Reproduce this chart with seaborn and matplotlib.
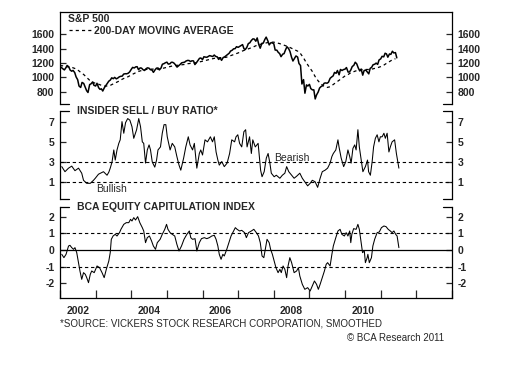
import numpy as np
import pandas as pd
import matplotlib
matplotlib.use("Agg")
import matplotlib.pyplot as plt
import seaborn as sns

sns.set_style("white")
plt.rcParams['font.family'] = ['Liberation Sans', 'DejaVu Sans']

# ---------------------------------------------------------------
# data
# ---------------------------------------------------------------

# S&P 500, semi-monthly (1st and 15th), Jan 2002 - Jun 2011
sp500_close = [
    1148, 1138, 1118, 1104, 1131, 1166, 1147, 1102, 1086, 1097, 1067, 1007,
    968, 880, 860, 930, 916, 870, 815, 790, 900, 910, 936, 890,
    880, 918, 856, 834, 841, 810, 858, 885, 917, 946, 964, 994,
    982, 1000, 980, 990, 1008, 1015, 1018, 1046, 1051, 1050, 1058, 1075,
    1112, 1139, 1131, 1146, 1149, 1108, 1132, 1129, 1107, 1096, 1121, 1133,
    1128, 1107, 1102, 1070, 1105, 1128, 1131, 1104, 1130, 1183, 1191, 1203,
    1212, 1185, 1189, 1210, 1210, 1198, 1172, 1143, 1162, 1178, 1202, 1207,
    1211, 1227, 1236, 1235, 1221, 1231, 1229, 1178, 1207, 1234, 1265, 1270,
    1248, 1287, 1282, 1280, 1292, 1303, 1295, 1290, 1311, 1292, 1285, 1250,
    1270, 1237, 1277, 1285, 1304, 1321, 1336, 1366, 1378, 1397, 1400, 1427,
    1418, 1430, 1445, 1456, 1400, 1387, 1421, 1470, 1482, 1512, 1536, 1533,
    1503, 1549, 1455, 1406, 1474, 1476, 1527, 1560, 1509, 1452, 1481, 1481,
    1468, 1380, 1379, 1349, 1331, 1288, 1323, 1330, 1386, 1426, 1400, 1360,
    1280, 1228, 1267, 1298, 1283, 1193, 1165, 908, 969, 780, 896, 880,
    903, 844, 826, 827, 700, 756, 798, 852, 873, 883, 919, 923,
    919, 932, 987, 1004, 1021, 1069, 1057, 1096, 1036, 1110, 1096, 1108,
    1115, 1137, 1074, 1075, 1104, 1150, 1169, 1211, 1187, 1135, 1089, 1116,
    1031, 1095, 1102, 1079, 1049, 1125, 1141, 1176, 1183, 1199, 1181, 1242,
    1258, 1293, 1286, 1336, 1327, 1281, 1326, 1320, 1364, 1340, 1345, 1272,
]

# 200-day moving average, monthly, Jan 2002 - Jun 2011
sma200 = [
    1165, 1160, 1150, 1145, 1140, 1125, 1105, 1070, 1040, 1000, 960, 935,
    915, 905, 890, 880, 880, 890, 910, 930, 950, 975, 995, 1010,
    1035, 1055, 1075, 1090, 1100, 1110, 1115, 1115, 1115, 1115, 1120, 1130,
    1140, 1150, 1160, 1165, 1170, 1175, 1180, 1190, 1195, 1200, 1205, 1215,
    1225, 1235, 1245, 1255, 1265, 1270, 1275, 1275, 1280, 1295, 1310, 1325,
    1340, 1360, 1375, 1390, 1405, 1420, 1440, 1455, 1465, 1475, 1485, 1490,
    1490, 1480, 1470, 1455, 1440, 1425, 1405, 1385, 1365, 1330, 1270, 1200,
    1140, 1080, 1010, 950, 905, 875, 860, 870, 900, 930, 960, 990,
    1020, 1040, 1065, 1080, 1095, 1105, 1110, 1110, 1110, 1115, 1125, 1135,
    1150, 1170, 1195, 1220, 1245, 1260,
]

insider_year = [
    2002.05, 2002.14, 2002.24, 2002.33, 2002.42, 2002.52, 2002.61, 2002.66, 2002.75, 2002.85,
    2002.94, 2002.99, 2003.08, 2003.22, 2003.32, 2003.37, 2003.41, 2003.46, 2003.51, 2003.55,
    2003.60, 2003.65, 2003.69, 2003.74, 2003.79, 2003.84, 2003.90, 2003.96, 2004.02, 2004.07,
    2004.15, 2004.21, 2004.26, 2004.31, 2004.35, 2004.40, 2004.45, 2004.50, 2004.54, 2004.59,
    2004.66, 2004.71, 2004.75, 2004.82, 2004.87, 2004.92, 2004.97, 2005.01, 2005.09, 2005.15,
    2005.22, 2005.28, 2005.34, 2005.39, 2005.47, 2005.53, 2005.60, 2005.65, 2005.72, 2005.77,
    2005.81, 2005.84, 2005.91, 2005.95, 2006.00, 2006.07, 2006.14, 2006.22, 2006.28, 2006.33,
    2006.38, 2006.43, 2006.47, 2006.54, 2006.61, 2006.69, 2006.76, 2006.82, 2006.90, 2006.94,
    2006.99, 2007.04, 2007.10, 2007.16, 2007.21, 2007.25, 2007.32, 2007.37, 2007.41, 2007.48,
    2007.56, 2007.60, 2007.63, 2007.67, 2007.73, 2007.79, 2007.84, 2007.89, 2007.93, 2008.01,
    2008.07, 2008.17, 2008.24, 2008.31, 2008.36, 2008.42, 2008.50, 2008.57, 2008.64, 2008.73,
    2008.80, 2008.87, 2008.95, 2009.02, 2009.08, 2009.16, 2009.23, 2009.30, 2009.36, 2009.44,
    2009.51, 2009.58, 2009.63, 2009.67, 2009.74, 2009.80, 2009.83, 2009.89, 2009.96, 2010.02,
    2010.08, 2010.13, 2010.17, 2010.22, 2010.27, 2010.31, 2010.36, 2010.40, 2010.46, 2010.50,
    2010.57, 2010.63, 2010.66, 2010.71, 2010.76, 2010.80, 2010.85, 2010.90, 2010.95, 2010.99,
    2011.04, 2011.09, 2011.13, 2011.18, 2011.23, 2011.27, 2011.32, 2011.39, 2011.44, 2011.51,
]
insider_ratio = [
    2.55, 2.05, 2.4, 2.6, 2.15, 2.4, 1.9, 1.2, 0.9, 0.9,
    1.2, 1.4, 1.8, 2.05, 1.7, 2.0, 2.4, 3.0, 4.2, 3.2,
    4.2, 4.85, 5.2, 7.0, 5.85, 6.9, 7.3, 7.15, 6.5, 5.35,
    6.2, 7.3, 6.5, 5.0, 4.85, 2.9, 4.2, 4.7, 4.2, 3.0,
    2.5, 3.2, 4.2, 4.5, 5.85, 6.7, 6.7, 5.5, 4.2, 4.85,
    4.5, 3.55, 2.7, 2.2, 3.4, 4.5, 5.5, 4.7, 4.2, 4.85,
    3.4, 2.4, 3.85, 4.2, 3.7, 5.2, 5.0, 5.5, 5.0, 5.5,
    4.0, 3.2, 2.7, 3.05, 2.55, 2.9, 3.85, 5.2, 5.0, 5.5,
    5.7, 4.85, 4.5, 6.0, 6.2, 4.5, 5.5, 3.85, 5.2, 4.5,
    4.85, 3.4, 2.2, 1.55, 2.05, 3.4, 3.85, 2.9, 1.9, 1.55,
    1.7, 1.4, 1.7, 1.9, 2.55, 2.05, 1.7, 1.4, 1.6, 1.9,
    1.4, 1.05, 0.65, 0.9, 1.2, 1.05, 0.5, 1.4, 2.05, 2.2,
    2.4, 2.9, 3.55, 3.85, 4.2, 5.2, 4.5, 3.4, 2.55, 3.05,
    4.2, 3.55, 2.9, 4.35, 4.7, 4.2, 6.2, 4.5, 3.05, 2.05,
    2.55, 3.2, 2.05, 1.7, 3.05, 4.5, 5.35, 5.7, 5.0, 5.5,
    5.5, 5.85, 5.35, 5.85, 4.0, 4.5, 5.0, 5.2, 3.85, 2.4,
]

capit_year = [
    2002.05, 2002.11, 2002.17, 2002.24, 2002.28, 2002.33, 2002.38, 2002.42, 2002.47, 2002.52,
    2002.56, 2002.61, 2002.66, 2002.71, 2002.75, 2002.80, 2002.85, 2002.89, 2002.96, 2003.04,
    2003.11, 2003.18, 2003.24, 2003.30, 2003.37, 2003.41, 2003.44, 2003.49, 2003.55, 2003.60,
    2003.67, 2003.71, 2003.79, 2003.86, 2003.93, 2003.98, 2004.02, 2004.07, 2004.12, 2004.18,
    2004.24, 2004.31, 2004.35, 2004.40, 2004.45, 2004.51, 2004.57, 2004.62, 2004.68, 2004.73,
    2004.81, 2004.87, 2004.94, 2004.99, 2005.03, 2005.09, 2005.15, 2005.22, 2005.28, 2005.34,
    2005.41, 2005.48, 2005.56, 2005.63, 2005.67, 2005.72, 2005.79, 2005.84, 2005.91, 2005.97,
    2006.05, 2006.12, 2006.19, 2006.26, 2006.33, 2006.38, 2006.43, 2006.47, 2006.52, 2006.57,
    2006.61, 2006.68, 2006.74, 2006.80, 2006.87, 2006.92, 2006.97, 2007.04, 2007.10, 2007.18,
    2007.23, 2007.29, 2007.37, 2007.44, 2007.51, 2007.57, 2007.62, 2007.67, 2007.72, 2007.76,
    2007.81, 2007.87, 2007.91, 2007.96, 2008.01, 2008.06, 2008.12, 2008.17, 2008.21, 2008.26,
    2008.31, 2008.36, 2008.40, 2008.45, 2008.50, 2008.57, 2008.64, 2008.69, 2008.73, 2008.80,
    2008.87, 2008.95, 2009.02, 2009.08, 2009.14, 2009.20, 2009.25, 2009.30, 2009.36, 2009.42,
    2009.47, 2009.51, 2009.58, 2009.63, 2009.67, 2009.74, 2009.80, 2009.86, 2009.91, 2009.98,
    2010.03, 2010.08, 2010.13, 2010.16, 2010.19, 2010.24, 2010.31, 2010.36, 2010.40, 2010.45,
    2010.49, 2010.54, 2010.57, 2010.62, 2010.64, 2010.68, 2010.74, 2010.78, 2010.83, 2010.90,
    2010.96, 2011.02, 2011.09, 2011.15, 2011.21, 2011.27, 2011.32, 2011.37, 2011.42, 2011.46,
    2011.51,
]
capit_index = [
    -0.26, -0.46, -0.26, 0.24, 0.28, 0.14, 0.04, 0.14, -0.16, -0.76,
    -1.26, -1.76, -1.36, -1.46, -1.66, -1.96, -1.46, -1.26, -1.36, -0.96,
    -1.06, -1.36, -1.66, -1.16, -0.66, -0.16, 0.64, 0.84, 0.94, 0.84,
    1.04, 1.24, 1.54, 1.64, 1.64, 1.84, 1.74, 1.94, 1.80, 2.00,
    1.64, 1.34, 1.14, 0.44, 0.74, 0.84, 0.54, 0.24, 0.04, 0.44,
    0.64, 0.94, 1.24, 1.54, 1.24, 1.04, 0.94, 0.84, 0.34, -0.06,
    0.24, 0.64, 0.94, 1.14, 0.74, 0.64, 0.68, -0.06, 0.44, 0.68,
    0.74, 0.68, 0.74, 0.84, 0.88, 0.64, 0.24, -0.26, -0.56, -0.26,
    -0.36, 0.04, 0.44, 0.84, 1.14, 1.34, 1.24, 1.14, 1.18, 1.04,
    0.74, 1.04, 1.14, 1.24, 1.04, 0.84, 0.44, -0.36, -0.46, 0.04,
    0.64, 0.44, 0.04, -0.26, -0.66, -1.06, -1.36, -1.16, -1.36, -0.96,
    -1.16, -1.66, -0.96, -0.46, -0.76, -1.36, -1.26, -1.06, -1.56, -2.06,
    -2.36, -2.26, -2.46, -2.16, -1.86, -2.06, -2.36, -2.06, -1.66, -1.26,
    -0.86, -0.76, -0.96, -0.26, 0.24, 0.74, 1.14, 1.24, 0.94, 0.84,
    1.04, 0.84, 1.14, 0.44, 0.94, 1.28, 1.24, 1.54, 1.24, 0.44,
    -0.16, -0.06, -0.76, -0.46, -0.26, -0.76, -0.46, 0.24, 0.64, 1.04,
    1.08, 1.34, 1.44, 1.40, 1.24, 1.14, 1.04, 1.14, 0.94, 0.84,
    0.14,
]

year_ticks = list(range(2002, 2014))
year_labels = ['2002', '2004', '2006', '2008', '2010']
sp_ticks = [800, 1000, 1200, 1400, 1600]
insider_ticks = [1, 3, 5, 7]
insider_levels = [3, 1]
capit_ticks = [-2, -1, 0, 1, 2]
capit_levels = [1, -1]


def to_decimal_year(dates):
    return dates.year + (dates.dayofyear - 1) / 365.25


sp_dates = pd.date_range('2002-01-01', periods=len(sp500_close), freq='SMS')
ma_dates = pd.date_range('2002-01-01', periods=len(sma200), freq='MS')
sp_df = pd.DataFrame({'year': to_decimal_year(sp_dates), 'close': sp500_close})
ma_df = pd.DataFrame({'year': to_decimal_year(ma_dates), 'ma': sma200})
ins_df = pd.DataFrame({'year': insider_year, 'ratio': insider_ratio})
cap_df = pd.DataFrame({'year': capit_year, 'index': capit_index})

# ---------------------------------------------------------------
# figure
# ---------------------------------------------------------------
fig = plt.figure(figsize=(5.11, 3.65), dpi=100)
ax1 = fig.add_axes([0.1174, 0.7151, 0.7671, 0.2521])
ax2 = fig.add_axes([0.1174, 0.4548, 0.7671, 0.2411])
ax3 = fig.add_axes([0.1174, 0.1836, 0.7671, 0.2493])

STUB = 0.024


def style_panel(ax, yticks, show_top, show_bottom):
    ax.set_xlim(2002, 2013)
    for side in ['left', 'right', 'top', 'bottom']:
        ax.spines[side].set_color('black')
        ax.spines[side].set_linewidth(0.9)
    ax.spines['top'].set_visible(show_top)
    ax.spines['bottom'].set_visible(show_bottom)
    # short corner stubs where the frame is open
    for yy, shown in [(1, show_top), (0, show_bottom)]:
        if not shown:
            for xs in ([0, STUB], [1 - STUB, 1]):
                ax.plot(xs, [yy, yy], color='black', lw=0.9,
                        transform=ax.transAxes, clip_on=False)
    ax.set_yticks(yticks)
    ax.set_yticklabels([str(t) for t in yticks])
    ax.tick_params(axis='y', which='major', direction='in', length=4, width=0.9,
                   left=True, right=True, labelleft=True, labelright=True,
                   pad=4, labelsize=7.5)
    for lbl in ax.get_yticklabels(which='both'):
        lbl.set_fontweight('bold')
    ax.set_xlabel('')
    ax.set_ylabel('')
    ax.grid(False)


# --- panel 1: S&P 500 ---
sns.lineplot(data=sp_df, x='year', y='close', ax=ax1, color='black', lw=1.1,
             estimator=None, sort=False)
sns.lineplot(data=ma_df, x='year', y='ma', ax=ax1, color='black', lw=0.9,
             linestyle=(0, (2.5, 2.5)), estimator=None, sort=False,
             label='200-DAY MOVING AVERAGE')
ax1.set_ylim(630, 1910)
ax1.set_xticks([])
style_panel(ax1, sp_ticks, True, False)
ax1.text(0.02, 0.925, 'S&P 500', transform=ax1.transAxes, ha='left', va='center',
         fontsize=7.5, fontweight='bold')
leg = ax1.legend(loc='upper left', bbox_to_anchor=(0.022, 0.85), frameon=False,
                 borderpad=0, borderaxespad=0, handlelength=2.2, handletextpad=0.2,
                 prop={'size': 7.5, 'weight': 'bold'})

# --- panel 2: insider sell / buy ratio ---
sns.lineplot(data=ins_df, x='year', y='ratio', ax=ax2, color='black', lw=0.75,
             estimator=None, sort=False)
for lvl in insider_levels:
    ax2.axhline(lvl, color='black', lw=0.8, linestyle=(0, (3, 2.5)))
ax2.set_ylim(-0.65, 8.05)
ax2.set_xticks([])
style_panel(ax2, insider_ticks, False, False)
ax2.text(0.043, 1.0, 'INSIDER SELL / BUY RATIO*', transform=ax2.transAxes,
         ha='left', va='center', fontsize=7.5, fontweight='bold')
ax2.text(2008.02, 3.15, 'Bearish', ha='left', va='baseline', fontsize=7.5)
ax2.text(2003.02, 0.85, 'Bullish', ha='left', va='top', fontsize=7.5)

# --- panel 3: BCA equity capitulation index ---
sns.lineplot(data=cap_df, x='year', y='index', ax=ax3, color='black', lw=0.75,
             estimator=None, sort=False)
ax3.axhline(0, color='black', lw=0.9)
for lvl in capit_levels:
    ax3.axhline(lvl, color='black', lw=0.8, linestyle=(0, (3, 2.5)))
ax3.set_ylim(-2.88, 2.58)
style_panel(ax3, capit_ticks, False, True)
ax3.set_xticks(year_ticks)
ax3.set_xticklabels([])
ax3.set_xticks([int(y) + 0.5 for y in year_labels], minor=True)
ax3.set_xticklabels(year_labels, minor=True, fontsize=7.5, fontweight='bold')
ax3.tick_params(axis='x', which='major', direction='in', length=6, width=0.9,
                bottom=True, top=False)
ax3.tick_params(axis='x', which='minor', length=0, pad=6, bottom=True)
ax3.text(0.043, 1.0, 'BCA EQUITY CAPITULATION INDEX', transform=ax3.transAxes,
         ha='left', va='center', fontsize=7.5, fontweight='bold')

# --- footer ---
fig.text(60 / 511, 1 - 324 / 365, '*SOURCE: VICKERS STOCK RESEARCH CORPORATION, SMOOTHED',
         ha='left', va='center', fontsize=7)
fig.text(444 / 511, 1 - 338 / 365, '\u00a9 BCA Research 2011',
         ha='right', va='center', fontsize=7)

fig.savefig('out.png', dpi=100, facecolor='white')
